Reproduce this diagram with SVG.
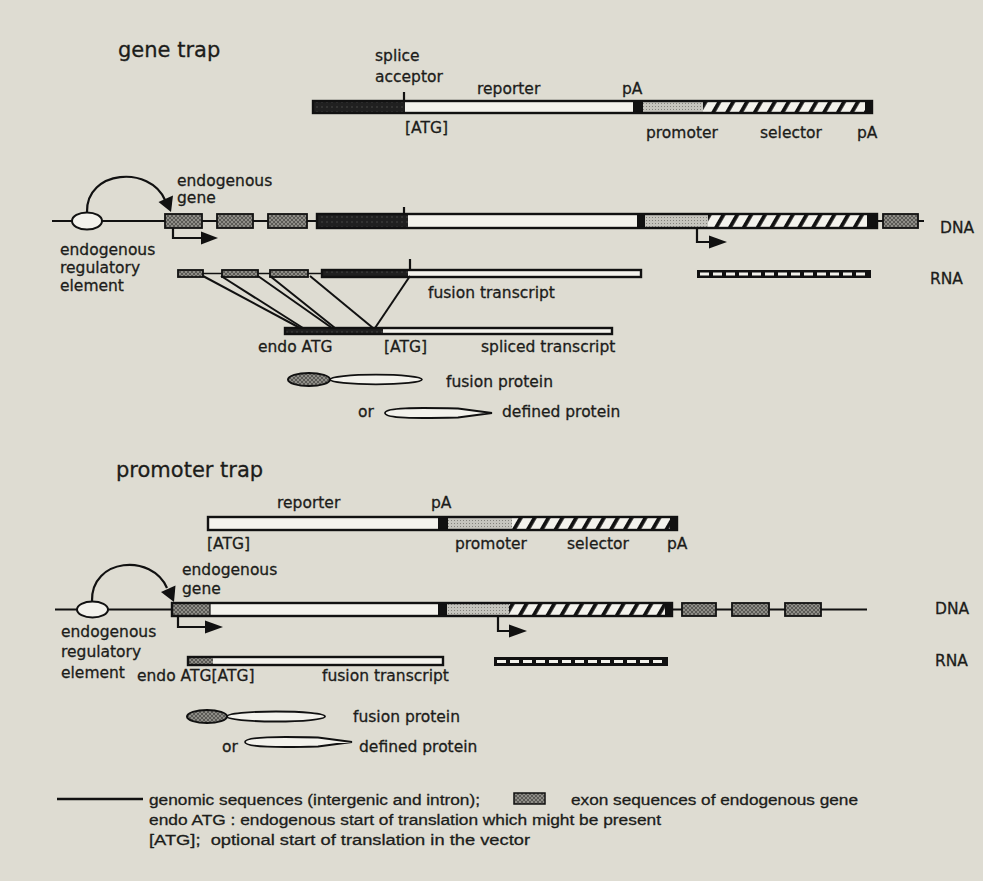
<svg xmlns="http://www.w3.org/2000/svg" width="983" height="881" viewBox="0 0 983 881">
<style>
text{font-family:"DejaVu Sans","Liberation Sans",sans-serif;font-size:15.5px;fill:#1c1c1a;stroke:#1c1c1a;stroke-width:0.3}
.title{font-size:21px}
.leg{font-family:"Liberation Sans",Arial,sans-serif;font-size:15.5px}
.bd{fill:none;stroke:#111;stroke-width:2.4}
.ex{fill:url(#exon);stroke:#111;stroke-width:1.8}
.wh{fill:#f3f2ec}
.blk{fill:#111}
.sa{fill:url(#dark)}
.pr{fill:url(#stip)}
.se{fill:url(#hatch)}
.ln{stroke:#111;stroke-width:2.2;fill:none}
.sp{stroke:#111;stroke-width:2;fill:none}
.ar{fill:#111}
</style>
<defs>
<pattern id="exon" width="4" height="4" patternUnits="userSpaceOnUse">
<rect width="4" height="4" fill="#8e8d87"/>
<path d="M0,4 L4,0 M0,0 L4,4" stroke="#4e4d49" stroke-width="0.8"/>
</pattern>
<pattern id="dark" width="5" height="5" patternUnits="userSpaceOnUse">
<rect width="5" height="5" fill="#202020"/>
<circle cx="2" cy="2" r="0.8" fill="#4a4a48"/>
</pattern>
<pattern id="stip" width="3" height="3" patternUnits="userSpaceOnUse">
<rect width="3" height="3" fill="#c6c5be"/>
<rect x="1" y="1" width="1" height="1" fill="#84837d"/>
</pattern>
<pattern id="hatch" width="12" height="20" patternUnits="userSpaceOnUse" patternTransform="rotate(30)">
<rect width="12" height="20" fill="#f3f2ec"/>
<rect width="3.8" height="20" fill="#111"/>
</pattern>
</defs>
<rect width="983" height="881" fill="#dedcd2"/>

<!-- ============ GENE TRAP ============ -->
<text class="title" x="118" y="57">gene trap</text>

<g id="gt-vector">
<rect class="sa" x="313" y="101" width="92" height="12"/>
<rect class="wh" x="405" y="101" width="228" height="12"/>
<rect class="blk" x="633" y="101" width="10" height="12"/>
<rect class="pr" x="643" y="101" width="60" height="12"/>
<rect class="se" x="703" y="101" width="162" height="12"/>
<rect class="blk" x="865" y="101" width="7" height="12"/>
<rect class="bd" x="313" y="101" width="559" height="12"/>
<line class="ln" x1="404" y1="92" x2="404" y2="101"/>
<text x="375" y="61">splice</text>
<text x="375" y="82">acceptor</text>
<text x="477" y="94">reporter</text>
<text x="622" y="94">pA</text>
<text x="405" y="133">[ATG]</text>
<text x="646" y="138">promoter</text>
<text x="760" y="138">selector</text>
<text x="857" y="138">pA</text>
</g>

<g id="gt-dna">
<line class="ln" x1="52" y1="221" x2="924" y2="221"/>
<ellipse cx="87" cy="221" rx="15" ry="8.5" fill="#f3f2ec" stroke="#111" stroke-width="2"/>
<rect class="ex" x="165" y="214" width="37" height="14"/>
<rect class="ex" x="217" y="214" width="36" height="14"/>
<rect class="ex" x="268" y="214" width="39" height="14"/>
<rect class="sa" x="317" y="214" width="91" height="14"/>
<rect class="wh" x="408" y="214" width="229" height="14"/>
<rect class="blk" x="637" y="214" width="8" height="14"/>
<rect class="pr" x="645" y="214" width="63" height="14"/>
<rect class="se" x="708" y="214" width="159" height="14"/>
<rect class="blk" x="867" y="214" width="10" height="14"/>
<rect class="bd" x="317" y="214" width="560" height="14"/>
<rect class="ex" x="883" y="214" width="35" height="14"/>
<line class="ln" x1="404" y1="207" x2="404" y2="214"/>
<text x="177" y="186">endogenous</text>
<text x="177" y="203">gene</text>
<text x="60" y="255">endogenous</text>
<text x="60" y="273">regulatory</text>
<text x="60" y="291">element</text>
<text x="940" y="233">DNA</text>
</g>

<g id="gt-rna">
<line x1="203" y1="273.5" x2="322" y2="273.5" stroke="#111" stroke-width="1.5"/>
<rect class="ex" x="178" y="270" width="25" height="7"/>
<rect class="ex" x="222" y="270" width="36" height="7"/>
<rect class="ex" x="270" y="270" width="38" height="7"/>
<rect class="sa" x="322" y="270" width="86" height="7"/>
<rect class="wh" x="408" y="270" width="233" height="7"/>
<rect class="bd" x="322" y="270" width="319" height="7"/>
<line class="ln" x1="410" y1="259" x2="410" y2="270"/>
<rect class="blk" x="697" y="270" width="174" height="8"/>
<line x1="700" y1="274" x2="868" y2="274" stroke="#f3f2ec" stroke-width="3" stroke-dasharray="9 4"/>
<text x="428" y="298">fusion transcript</text>
<text x="930" y="284">RNA</text>
</g>

<g id="gt-spliced">
<rect class="sa" x="285" y="328" width="98" height="6"/>
<rect class="wh" x="383" y="328" width="229" height="6"/>
<rect class="bd" x="285" y="328" width="327" height="6"/>
<text x="258" y="352">endo ATG</text>
<text x="384" y="352">[ATG]</text>
<text x="481" y="352">spliced transcript</text>
</g>

<g id="gt-fusion-protein">
<ellipse cx="376" cy="379.5" rx="46" ry="4.8" fill="#f3f2ec" stroke="#111" stroke-width="1.8"/>
<ellipse cx="309" cy="379.5" rx="21" ry="6.5" fill="url(#exon)" stroke="#111" stroke-width="2"/>
<text x="446" y="387">fusion protein</text>
</g>

<g id="gt-defined-protein">
<path d="M385,413 C385,407.5 415,407.5 458,408.5 L492,413 L458,417.5 C415,418.5 385,418.5 385,413 Z" fill="#f3f2ec" stroke="#111" stroke-width="1.8"/>
<text x="358" y="417">or</text>
<text x="502" y="417">defined protein</text>
</g>

<!-- ============ PROMOTER TRAP ============ -->
<text class="title" x="116" y="477">promoter trap</text>

<g id="pt-vector">
<rect class="wh" x="208" y="517" width="230" height="13"/>
<rect class="blk" x="438" y="517" width="10" height="13"/>
<rect class="pr" x="448" y="517" width="64" height="13"/>
<rect class="se" x="512" y="517" width="158" height="13"/>
<rect class="blk" x="670" y="517" width="7" height="13"/>
<rect class="bd" x="208" y="517" width="469" height="13"/>
<text x="277" y="508">reporter</text>
<text x="431" y="508">pA</text>
<text x="207" y="549">[ATG]</text>
<text x="455" y="549">promoter</text>
<text x="567" y="549">selector</text>
<text x="667" y="549">pA</text>
</g>

<g id="pt-dna">
<line class="ln" x1="55" y1="609.5" x2="867" y2="609.5"/>
<ellipse cx="92.5" cy="609.5" rx="15.5" ry="8" fill="#f3f2ec" stroke="#111" stroke-width="2"/>
<rect x="172" y="603" width="38" height="13" fill="url(#exon)"/>
<rect class="wh" x="210" y="603" width="228" height="13"/>
<rect class="blk" x="438" y="603" width="9" height="13"/>
<rect class="pr" x="447" y="603" width="62" height="13"/>
<rect class="se" x="509" y="603" width="156" height="13"/>
<rect class="blk" x="665" y="603" width="7" height="13"/>
<rect class="bd" x="172" y="603" width="500" height="13"/>
<line x1="210" y1="603" x2="210" y2="616" stroke="#111" stroke-width="1.2"/>
<rect class="ex" x="682" y="603" width="34" height="13"/>
<rect class="ex" x="732" y="603" width="37" height="13"/>
<rect class="ex" x="785" y="603" width="36" height="13"/>
<text x="182" y="575">endogenous</text>
<text x="182" y="594">gene</text>
<text x="61" y="637">endogenous</text>
<text x="61" y="657">regulatory</text>
<text x="61" y="678">element</text>
<text x="935" y="614">DNA</text>
</g>

<g id="pt-rna">
<rect x="188" y="657" width="25" height="8" fill="url(#exon)"/>
<rect class="wh" x="213" y="657" width="230" height="8"/>
<rect class="bd" x="188" y="657" width="255" height="8"/>
<rect class="blk" x="494" y="657" width="174" height="9"/>
<line x1="497" y1="661.5" x2="665" y2="661.5" stroke="#f3f2ec" stroke-width="3" stroke-dasharray="9 4"/>
<text x="137" y="681">endo ATG[ATG]</text>
<text x="322" y="681">fusion transcript</text>
<text x="935" y="666">RNA</text>
</g>

<g id="pt-fusion-protein">
<ellipse cx="276" cy="716.5" rx="49" ry="5" fill="#f3f2ec" stroke="#111" stroke-width="1.8"/>
<ellipse cx="207" cy="716.5" rx="20" ry="6.5" fill="url(#exon)" stroke="#111" stroke-width="2"/>
<text x="353" y="722">fusion protein</text>
</g>

<g id="pt-defined-protein">
<path d="M245,742 C245,736.5 280,736.5 318,737.5 L352,742 L318,746.5 C280,747.5 245,747.5 245,742 Z" fill="#f3f2ec" stroke="#111" stroke-width="1.8"/>
<text x="222" y="752">or</text>
<text x="359" y="752">defined protein</text>
</g>

<!-- ============ CONNECTORS ============ -->
<g id="connectors">
<path class="ln" d="M87,212 C86,170 150,165 165,200"/>
<polygon class="ar" points="171,212 158.5,202 173,195.5"/>
<path class="ln" d="M173,228 V238 H204"/>
<polygon class="ar" points="201,231.5 218,238 201,244.5"/>
<path class="ln" d="M697,228 V242 H712"/>
<polygon class="ar" points="709,235.5 727,242 709,248.5"/>
<line class="sp" x1="203" y1="276" x2="300" y2="328"/>
<line class="sp" x1="221" y1="276" x2="303" y2="328"/>
<line class="sp" x1="258" y1="276" x2="332" y2="328"/>
<line class="sp" x1="270" y1="276" x2="335" y2="328"/>
<line class="sp" x1="310" y1="276" x2="373" y2="328"/>
<line class="sp" x1="410" y1="276" x2="375" y2="328"/>
<path class="ln" d="M92,601 C91,558 152,553 167,588"/>
<polygon class="ar" points="174,602 161,592 175.5,585.5"/>
<path class="ln" d="M178,616 V627 H208"/>
<polygon class="ar" points="205,620.5 223,627 205,633.5"/>
<path class="ln" d="M498,616 V631 H512"/>
<polygon class="ar" points="509,624.5 527,631 509,637.5"/>
</g>

<!-- ============ LEGEND ============ -->
<g id="legend">
<line x1="57" y1="799" x2="143" y2="799" stroke="#111" stroke-width="2.5"/>
<text class="leg" x="149" y="805" textLength="331" lengthAdjust="spacingAndGlyphs">genomic sequences (intergenic and intron);</text>
<rect x="514" y="793" width="31" height="11" fill="url(#exon)" stroke="#111" stroke-width="1.5"/>
<text class="leg" x="571" y="805" textLength="287" lengthAdjust="spacingAndGlyphs">exon sequences of endogenous gene</text>
<text class="leg" x="149" y="825" textLength="512" lengthAdjust="spacingAndGlyphs">endo ATG : endogenous start of translation which might be present</text>
<text class="leg" x="149" y="845" textLength="381" lengthAdjust="spacingAndGlyphs">[ATG];&#160; optional start of translation in the vector</text>
</g>
</svg>
